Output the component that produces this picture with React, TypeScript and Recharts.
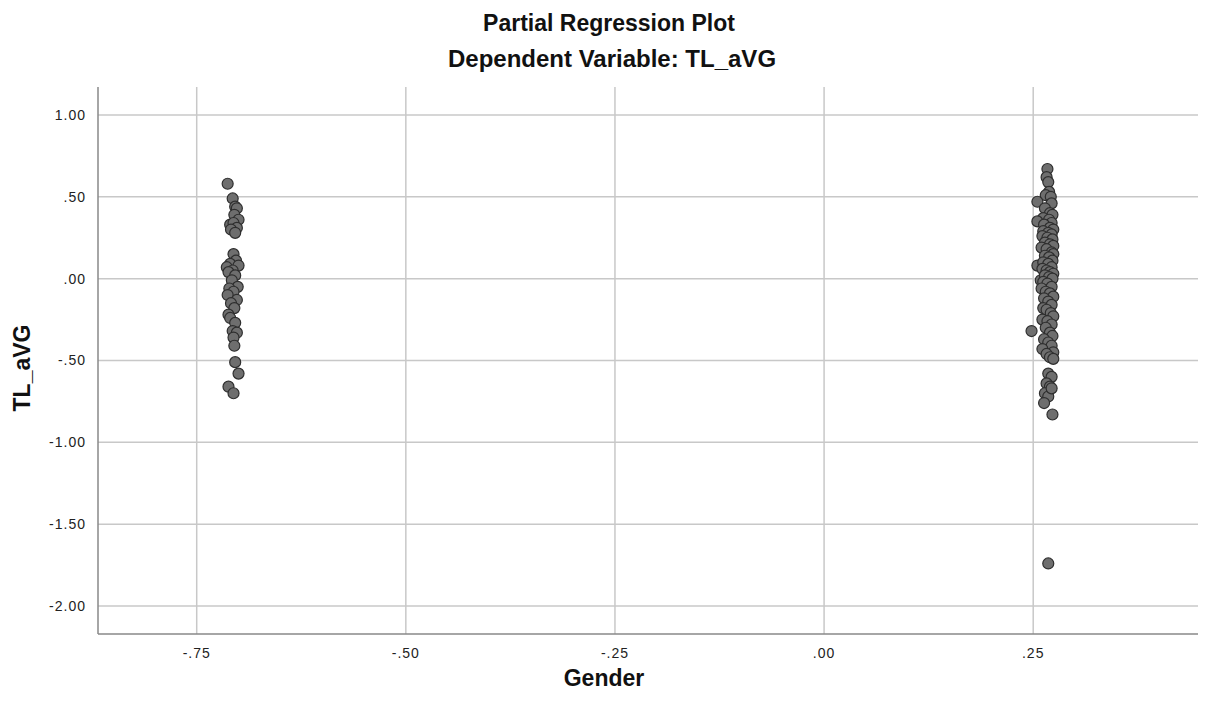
import { ScatterChart, Scatter, XAxis, YAxis, CartesianGrid } from "recharts";

// residuals: Gender | others (x) vs TL_aVG | others (y)
const femaleGender = [
  -0.713, -0.707, -0.704, -0.702, -0.705, -0.7, -0.71, -0.706, -0.702, -0.709,
  -0.704, -0.706, -0.703, -0.71, -0.714, -0.7, -0.707, -0.712, -0.704, -0.708,
  -0.701, -0.711, -0.706, -0.713, -0.702, -0.709, -0.705, -0.712, -0.71, -0.704,
  -0.707, -0.702, -0.706, -0.705, -0.704, -0.7, -0.712, -0.706,
];
const femaleTL = [
  0.58, 0.49, 0.44, 0.43, 0.39, 0.36, 0.33, 0.34, 0.31, 0.3,
  0.28, 0.15, 0.11, 0.09, 0.07, 0.08, 0.05, 0.04, 0.02, -0.01,
  -0.05, -0.06, -0.08, -0.1, -0.13, -0.15, -0.18, -0.22, -0.24, -0.27,
  -0.32, -0.33, -0.36, -0.41, -0.51, -0.58, -0.66, -0.7,
];

const maleGender = [
  0.267, 0.266, 0.268, 0.269, 0.265, 0.271, 0.255, 0.272, 0.264, 0.27,
  0.273, 0.262, 0.269, 0.255, 0.272, 0.263, 0.27, 0.274, 0.262, 0.268,
  0.272, 0.261, 0.267, 0.273, 0.264, 0.27, 0.274, 0.26, 0.266, 0.272,
  0.274, 0.264, 0.269, 0.255, 0.273, 0.262, 0.268, 0.272, 0.261, 0.266,
  0.27, 0.274, 0.259, 0.264, 0.269, 0.273, 0.262, 0.267, 0.272, 0.26,
  0.265, 0.27, 0.274, 0.263, 0.268, 0.272, 0.262, 0.266, 0.271, 0.274,
  0.261, 0.267, 0.272, 0.248, 0.265, 0.27, 0.273, 0.263, 0.268, 0.272,
  0.261, 0.274, 0.266, 0.27, 0.274, 0.268, 0.272, 0.266, 0.27, 0.264,
  0.268, 0.263, 0.272, 0.273, 0.268,
];
const maleTL = [
  0.67, 0.62, 0.59, 0.53, 0.51, 0.5, 0.47, 0.46, 0.43, 0.4,
  0.39, 0.37, 0.36, 0.35, 0.34, 0.33, 0.31, 0.3, 0.29, 0.28,
  0.27, 0.26, 0.25, 0.24, 0.22, 0.21, 0.2, 0.19, 0.18, 0.16,
  0.15, 0.14, 0.13, 0.08, 0.11, 0.1, 0.09, 0.07, 0.06, 0.05,
  0.04, 0.03, -0.01, 0.02, 0.01, 0.0, -0.02, -0.03, -0.05, -0.06,
  -0.08, -0.09, -0.11, -0.12, -0.14, -0.16, -0.18, -0.19, -0.21, -0.23,
  -0.25, -0.26, -0.28, -0.32, -0.3, -0.33, -0.35, -0.37, -0.39, -0.41,
  -0.43, -0.45, -0.46, -0.48, -0.49, -0.58, -0.6, -0.64, -0.66, -0.7,
  -0.72, -0.76, -0.67, -0.83, -1.74,
];

const xTicks = [-0.75, -0.5, -0.25, 0, 0.25];
const yTicks = [-2, -1.5, -1, -0.5, 0, 0.5, 1];

const points = [
  ...femaleGender.map((x, i) => ({ x, y: femaleTL[i] })),
  ...maleGender.map((x, i) => ({ x, y: maleTL[i] })),
];

const fmt = (v: number) => {
  const s = Math.abs(v).toFixed(2).replace(/^0/, "");
  return (v < 0 ? "-" : "") + s;
};

const font = "'Liberation Sans', Arial, sans-serif";
const tickStyle = { fill: "#222", fontSize: 14, fontFamily: font, letterSpacing: 1 };

const Dot = (props: any) => {
  const { cx, cy } = props;
  return <circle cx={cx} cy={cy} r={5.5} fill="#6e6e6e" stroke="#2e2e2e" strokeWidth={1.2} />;
};

export default function App() {
  return (
    <div style={{ position: "absolute", left: 0, top: 0, width: 1209, height: 709, background: "#fff" }}>
      <ScatterChart width={1209} height={709} margin={{ top: 87, right: 11, bottom: 45, left: 38 }}>
        <CartesianGrid stroke="#c8c8c8" strokeWidth={1.5} horizontalValues={yTicks} verticalValues={xTicks} />
        <XAxis
          type="number"
          dataKey="x"
          domain={[-0.868, 0.447]}
          ticks={xTicks}
          tickFormatter={fmt}
          allowDataOverflow
          height={30}
          tickLine={false}
          axisLine={{ stroke: "#888", strokeWidth: 1.5 }}
          tick={tickStyle}
          tickMargin={8}
        />
        <YAxis
          type="number"
          dataKey="y"
          domain={[-2.171, 1.171]}
          ticks={yTicks}
          tickFormatter={fmt}
          allowDataOverflow
          width={60}
          tickLine={false}
          axisLine={{ stroke: "#888", strokeWidth: 1.5 }}
          tick={tickStyle}
          tickMargin={6}
        />
        <Scatter data={points} shape={Dot} isAnimationActive={false} />
      </ScatterChart>
      <svg width={1209} height={709} style={{ position: "absolute", left: 0, top: 0, pointerEvents: "none" }}>
        <g fontFamily={font} fontWeight="bold" fill="#111" textAnchor="middle">
          <text x={609} y={31} fontSize={23}>Partial Regression Plot</text>
          <text x={612} y={67} fontSize={24}>Dependent Variable: TL_aVG</text>
          <text x={604} y={686} fontSize={23}>Gender</text>
          <text transform="translate(30,368) rotate(-90)" fontSize={23}>TL_aVG</text>
        </g>
      </svg>
    </div>
  );
}
